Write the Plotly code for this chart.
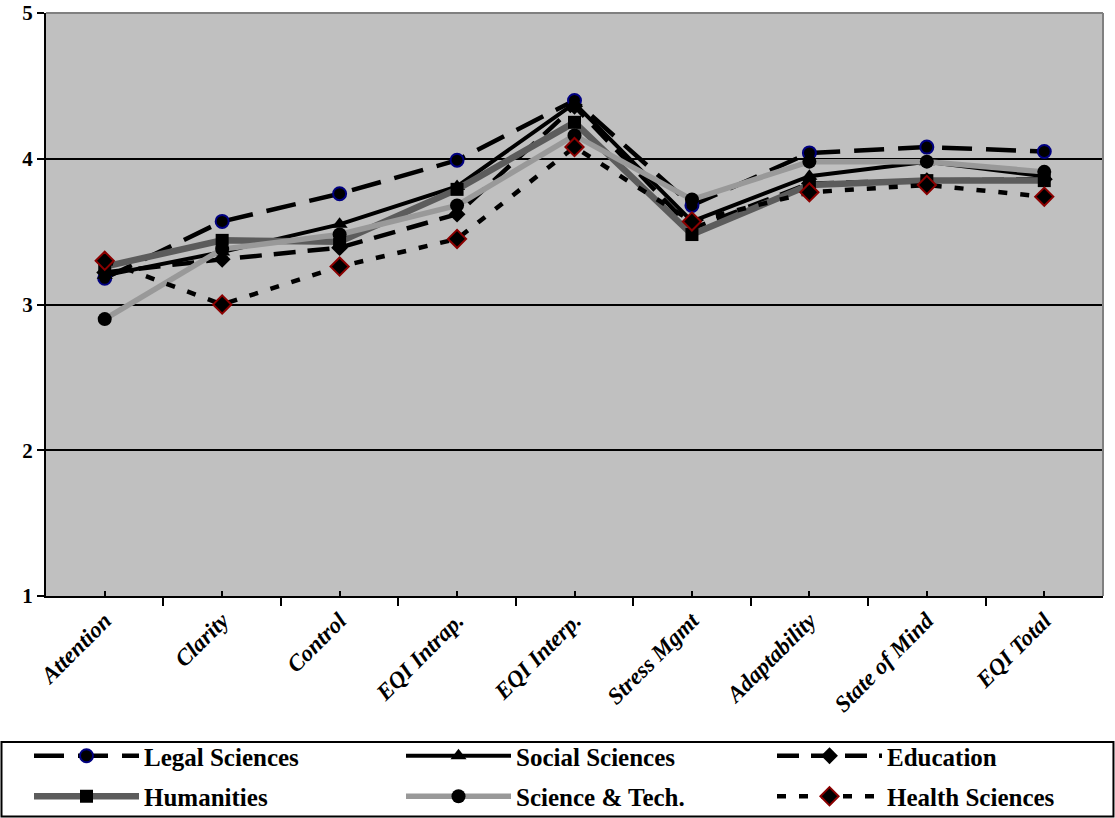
import plotly.graph_objects as go

# Emotional intelligence scores by faculty
categories = ["Attention", "Clarity", "Control", "EQI Intrap.", "EQI Interp.",
              "Stress Mgmt", "Adaptability", "State of Mind", "EQI Total"]

legal_sciences = [3.18, 3.57, 3.76, 3.99, 4.40, 3.68, 4.04, 4.08, 4.05]
social_sciences = [3.20, 3.36, 3.55, 3.81, 4.38, 3.57, 3.88, 3.98, 3.88]
education = [3.22, 3.31, 3.39, 3.62, 4.36, 3.52, 3.83, 3.85, 3.86]
humanities = [3.26, 3.44, 3.43, 3.79, 4.25, 3.48, 3.82, 3.85, 3.85]
science_tech = [2.90, 3.38, 3.48, 3.68, 4.16, 3.72, 3.98, 3.98, 3.91]
health_sciences = [3.30, 3.00, 3.26, 3.45, 4.08, 3.57, 3.77, 3.82, 3.74]

y_ticks = [1, 2, 3, 4, 5]

x_pos = list(range(len(categories)))

# (name, values, line style, marker style, legend column)
series = [
    ("Legal Sciences", legal_sciences,
     dict(color="black", width=4.5, dash="30px,14px"),
     dict(symbol="circle", size=13, color="black", line=dict(color="#000080", width=2)),
     "legend"),
    ("Social Sciences", social_sciences,
     dict(color="black", width=4, dash="solid"),
     dict(symbol="triangle-up", size=14, color="black", line=dict(color="black", width=0)),
     "legend2"),
    ("Education", education,
     dict(color="black", width=4.5, dash="22px,12px"),
     dict(symbol="diamond", size=13, color="black", line=dict(color="black", width=0)),
     "legend3"),
    ("Humanities", humanities,
     dict(color="#5c5c5c", width=6.5, dash="solid"),
     dict(symbol="square", size=13, color="black", line=dict(color="black", width=0)),
     "legend"),
    ("Science & Tech.", science_tech,
     dict(color="#999999", width=5.5, dash="solid"),
     dict(symbol="circle", size=14, color="black", line=dict(color="black", width=0)),
     "legend2"),
    ("Health Sciences", health_sciences,
     dict(color="black", width=4.5, dash="9px,13px"),
     dict(symbol="diamond", size=14, color="black", line=dict(color="#8b0000", width=2)),
     "legend3"),
]

fig = go.Figure()
for i, (name, values, line, marker, leg) in enumerate(series):
    fig.add_trace(go.Scatter(
        x=x_pos, y=values, name=name, mode="lines+markers",
        line=line, marker=marker, legend=leg, legendgroup=f"g{i}",
    ))

serif = "Liberation Serif, Times New Roman, serif"
legend_font = dict(family=serif, size=25, color="black", weight="bold")


def column_legend(x_px):
    return dict(
        orientation="v",
        xref="container", yref="container",
        x=x_px / 1115, xanchor="left",
        y=1 - 733 / 818, yanchor="top",
        itemwidth=105,
        font=legend_font,
        bgcolor="rgba(0,0,0,0)",
        borderwidth=0,
        tracegroupgap=5,
    )


fig.update_layout(
    width=1115, height=818,
    margin=dict(l=46, r=12, t=13, b=222, autoexpand=False),
    paper_bgcolor="white",
    plot_bgcolor="#c0c0c0",
    font=dict(family=serif, color="black"),
    showlegend=True,
    legend=column_legend(29),
    legend2=column_legend(401),
    legend3=column_legend(772),
    shapes=[
        # frame around the legend
        dict(type="rect", xref="paper", yref="paper",
             x0=-0.0421, x1=1.0099, y0=-0.3782, y1=-0.2504,
             line=dict(color="black", width=2), fillcolor="rgba(0,0,0,0)"),
        # grey outline on the top and right of the plot area
        dict(type="line", xref="paper", yref="paper", x0=0, x1=1, y0=1, y1=1,
             line=dict(color="#808080", width=2)),
        dict(type="line", xref="paper", yref="paper", x0=1, x1=1, y0=0, y1=1,
             line=dict(color="#808080", width=2)),
    ],
)

fig.update_xaxes(
    range=[-0.5, len(categories) - 0.5],
    tickmode="array", tickvals=x_pos, ticktext=categories,
    tickangle=-45,
    ticks="inside", ticklen=5, tickwidth=2, tickcolor="black",
    minor=dict(ticks="outside", ticklen=8, tickwidth=2, tickcolor="black",
               tickmode="linear", tick0=-0.5, dtick=1, showgrid=False),
    showline=True, linecolor="black", linewidth=2,
    showgrid=False, zeroline=False, automargin=False,
    tickfont=dict(family=serif, size=23, color="black", weight="bold", style="italic"),
)

fig.update_yaxes(
    range=[1, 5],
    tickmode="array", tickvals=y_ticks,
    ticks="outside", ticklen=7, tickwidth=2, tickcolor="black",
    showline=True, linecolor="black", linewidth=2,
    showgrid=True, gridcolor="black", gridwidth=2,
    zeroline=False, automargin=False,
    tickfont=dict(family=serif, size=21, color="black", weight="bold"),
)

fig.write_html("out.html")
